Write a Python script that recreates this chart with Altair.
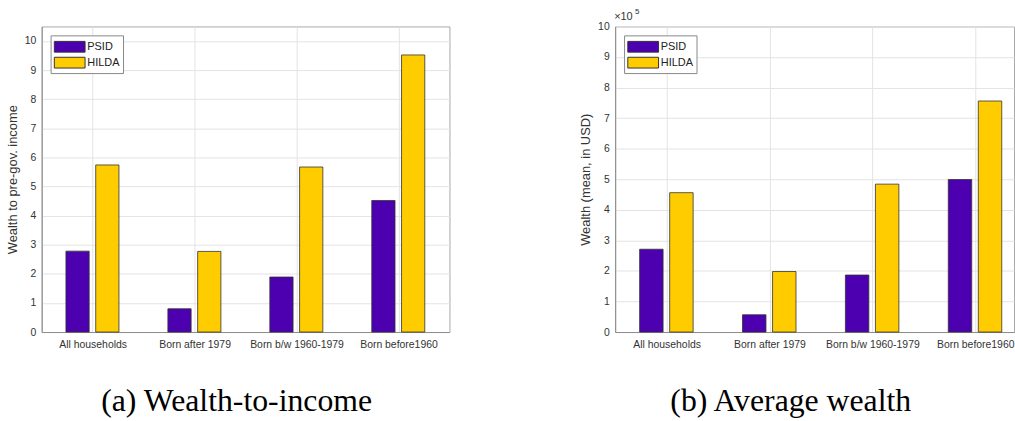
import json
import altair as alt
import pandas as pd

categories = ["All households", "Born after 1979", "Born b/w 1960-1979", "Born before1960"]
series_names = ["PSID", "HILDA"]
series_colors = ["#4C00AF", "#FFCC00"]

ratio_psid = [2.78, 0.80, 1.89, 4.52]
ratio_hilda = [5.74, 2.77, 5.67, 9.52]

wealth_psid = [271000, 56500, 186500, 499000]
wealth_hilda = [456000, 198000, 484000, 756000]

y_ticks = list(range(0, 11))


def make_df(psid, hilda):
    rows = []
    for i, c in enumerate(categories):
        rows.append({"category": c, "idx": i + 1, "series": "PSID", "value": psid[i]})
        rows.append({"category": c, "idx": i + 1, "series": "HILDA", "value": hilda[i]})
    return pd.DataFrame(rows)


df_ratio = make_df(ratio_psid, ratio_hilda)
df_wealth = make_df(wealth_psid, wealth_hilda)

label_expr = json.dumps(categories) + "[datum.value - 1]"
FONT = "Liberation Sans"

legend = alt.Legend(
    orient="none", legendX=9, legendY=9, title=None,
    symbolType="M-1,-0.7H3V0.7H-1Z", symbolSize=240,
    symbolStrokeColor="#333333", symbolStrokeWidth=1,
    labelFont=FONT, labelFontSize=11, labelColor="#222222",
    labelOffset=17, strokeColor="#888888", fillColor="white",
    padding=3, rowPadding=0,
)

color = alt.Color("series:N", scale=alt.Scale(domain=series_names, range=series_colors),
                  legend=legend)


def bars(df, ytitle, ydomain, xdomain, width, yexpr):
    return alt.Chart(df).transform_calculate(
        xl="datum.idx + (datum.series == 'PSID' ? -0.262 : 0.030)",
        xr="datum.idx + (datum.series == 'PSID' ? -0.034 : 0.258)",
        v=yexpr,
    ).mark_bar(stroke="#333333", strokeWidth=0.8).encode(
        x=alt.X("xl:Q", scale=alt.Scale(domain=xdomain, nice=False, zero=False),
                axis=alt.Axis(values=[1, 2, 3, 4], labelExpr=label_expr, title=None,
                              grid=True, ticks=False, labelPadding=8)),
        x2="xr:Q",
        y=alt.Y("v:Q", scale=alt.Scale(domain=ydomain, nice=False),
                axis=alt.Axis(values=y_ticks, title=ytitle, grid=True, ticks=False,
                              labelPadding=6, titlePadding=5)),
        y2=alt.datum(0),
        color=color,
    ).properties(width=width, height=308)


left = bars(df_ratio, "Wealth to pre-gov. income", [0, 10.5], [0.5, 4.5], 411,
            "datum.value").properties(
    title=alt.TitleParams("(a) Wealth-to-income", orient="bottom", font="Liberation Serif",
                          fontSize=32, fontWeight="normal", color="black", dx=-9, offset=36)
)

right_bars = bars(df_wealth, "Wealth (mean, in USD)", [0, 10], [0.5, 4.377], 402,
                  "datum.value / 100000")
exp_base = alt.Chart(pd.DataFrame({"t": ["×10"]})).mark_text(
    font=FONT, fontSize=11, color="#333333", align="left", baseline="middle"
).encode(x=alt.value(-1), y=alt.value(-9), text="t:N")
exp_pow = alt.Chart(pd.DataFrame({"t": ["5"]})).mark_text(
    font=FONT, fontSize=8, color="#333333", align="left", baseline="middle"
).encode(x=alt.value(20), y=alt.value(-15), text="t:N")

right = alt.layer(right_bars, exp_base, exp_pow).properties(
    title=alt.TitleParams("(b) Average wealth", orient="bottom", font="Liberation Serif",
                          fontSize=32, fontWeight="normal", color="black", dx=-24, offset=36)
)

chart = alt.hconcat(left, right, spacing=129).resolve_legend(
    color="independent"
).properties(
    padding={"left": 5, "top": 5, "right": 0, "bottom": 0}
).configure_view(
    stroke="#a8a8a8", strokeWidth=1
).configure_axis(
    labelFont=FONT, labelFontSize=10.5, labelColor="#333333",
    titleFont=FONT, titleFontSize=13, titleFontWeight="normal", titleColor="#333333",
    gridColor="#e3e3e3", gridWidth=1, domainColor="#8c8c8c",
)

chart.save("out.html", embed_options={"renderer": "svg", "actions": False})
